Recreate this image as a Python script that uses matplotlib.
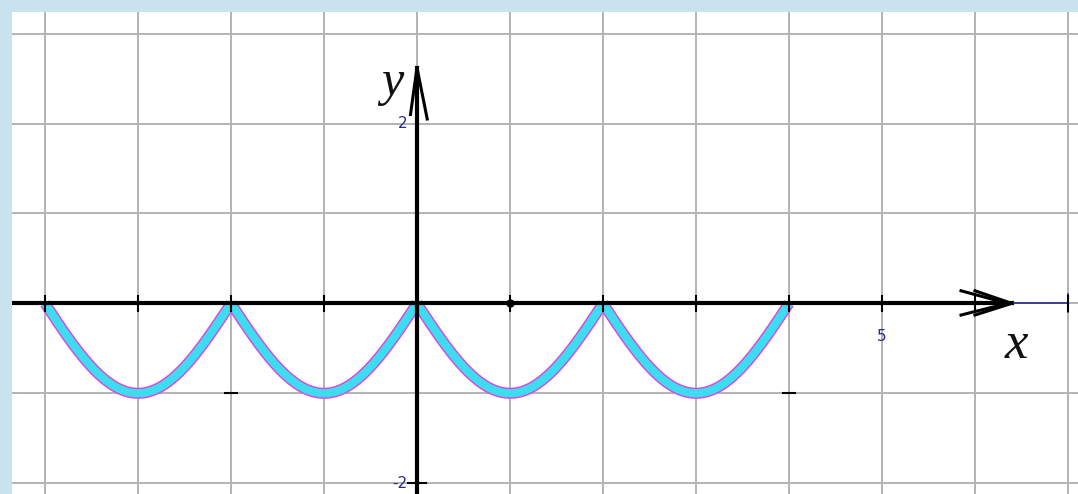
import numpy as np
import matplotlib.pyplot as plt

# arches of y = -|sin(pi*x/2)| on [-4, 4]
arch_starts = [-4, -2, 0, 2]
arch_width = 2
arch_depth = 1

x_ticks = [-4, -3, -2, -1, 1, 2, 3, 4, 5, 6, 7]
x_labels = {5: "5"}
y_labels = {2: "2", -2: "-2"}

fig = plt.figure(figsize=(10.78, 4.94), dpi=100, facecolor="#c9e3ee")
ax = fig.add_axes([12 / 1078, 0, 1 - 12 / 1078, 1 - 12 / 494])
ax.set_facecolor("white")
ax.set_xlim(-4.355, 7.108)
ax.set_ylim(-2.12, 3.24)
for s in ax.spines.values():
    s.set_visible(False)
ax.set_xticks([])
ax.set_yticks([])

# grid
for gx in range(-4, 8):
    ax.axvline(gx, color="#b3b3b3", lw=1.4, zorder=1)
for gy in range(-2, 4):
    ax.axhline(gy, color="#b3b3b3", lw=1.4, zorder=1)

# curve
for a in arch_starts:
    xs = np.linspace(a, a + arch_width, 200)
    ys = -arch_depth * np.abs(np.sin(np.pi * (xs - a) / arch_width))
    ax.plot(xs, ys, color="#e040e0", lw=8, solid_capstyle="butt", zorder=3)
    ax.plot(xs, ys, color="#3ddcee", lw=6, solid_capstyle="butt", zorder=4)

# x axis
ax.plot([-4.355, 6.4], [0, 0], color="black", lw=3.0, zorder=5)
ax.plot([6.4, 7], [0, 0], color="#2a2a8a", lw=1.2, zorder=5)
ax.plot([7, 7], [-0.1, 0.1], color="#2a2a8a", lw=1.2, zorder=5)
for dx in (0, 0.15):
    ax.plot([5.85 + dx, 6.35 + dx * 0.3, 5.85 + dx],
            [0.14, 0.0, -0.13], color="black", lw=2.2, zorder=5)
for t in x_ticks:
    ax.plot([t, t], [-0.08, 0.08], color="black", lw=1.5, zorder=5)
ax.plot([1], [0], "o", color="black", ms=5, zorder=6)
for t, lab in x_labels.items():
    ax.text(t, -0.28, lab, ha="center", va="top", fontsize=11, color="#2a2a8a", zorder=6)
ax.text(6.45, -0.2, "x", ha="center", va="top", fontsize=38, style="italic",
        family="Liberation Serif", color="#111111", zorder=6)

# y axis
ax.plot([0, 0], [-2.12, 2.62], color="black", lw=3.0, zorder=5)
ax.plot([-0.07, 0.0, 0.11], [2.1, 2.62, 2.05], color="black", lw=2.2, zorder=5)
ax.plot([-0.1, 0.1], [-2, -2], color="black", lw=1.5, zorder=5)
for t, lab in y_labels.items():
    ax.text(-0.1, t, lab, ha="right", va="center", fontsize=11, color="#2a2a8a", zorder=6)
ax.text(-0.15, 2.2, "y", ha="right", va="bottom", fontsize=36, style="italic",
        family="Liberation Serif", color="#111111", zorder=6)

# stray tick marks
ax.plot([-2.06, -1.94], [-1, -1], color="black", lw=1.5, zorder=5)
ax.plot([3.94, 4.06], [-1, -1], color="black", lw=1.5, zorder=5)

fig.savefig("out.png", dpi=100, facecolor=fig.get_facecolor())
